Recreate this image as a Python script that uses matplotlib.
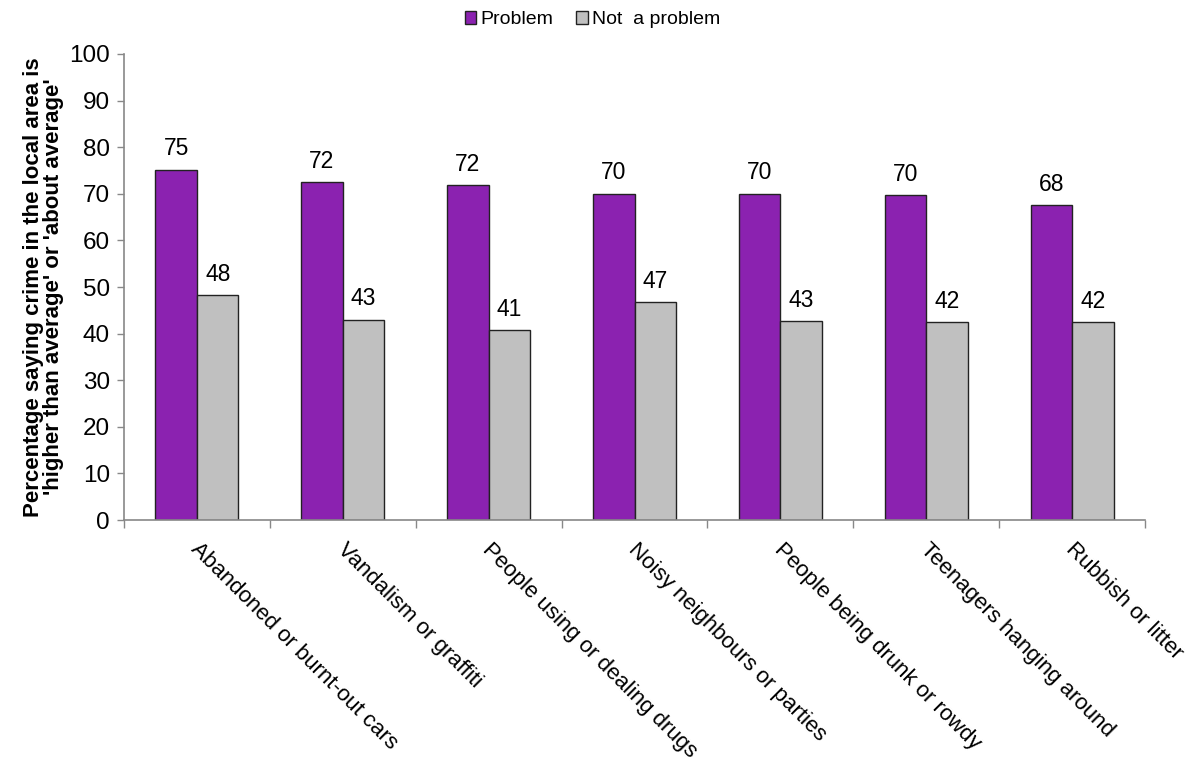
import numpy as np
import matplotlib.pyplot as plt

plt.rcParams['font.family'] = ['Liberation Sans', 'DejaVu Sans']

categories = ['Abandoned or burnt-out cars', 'Vandalism or graffiti',
              'People using or dealing drugs', 'Noisy neighbours or parties',
              'People being drunk or rowdy', 'Teenagers hanging around',
              'Rubbish or litter']
problem     = [75.2, 72.5, 71.8, 70.0, 70.0, 69.7, 67.5]
not_problem = [48.2, 43.0, 40.8, 46.8, 42.7, 42.4, 42.4]
problem_lbl     = [75, 72, 72, 70, 70, 70, 68]
not_problem_lbl = [48, 43, 41, 47, 43, 42, 42]

PURPLE = '#8B22B0'
GREY   = '#C0C0C0'

fig = plt.figure(figsize=(11.99, 7.67), dpi=100)
ax = fig.add_axes([0.1034, 0.322, 0.8516, 0.6076])

x = np.arange(len(categories))
w = 0.285
b1 = ax.bar(x - w/2, problem, w, color=PURPLE, edgecolor='#222222', lw=1.0, label='Problem')
b2 = ax.bar(x + w/2, not_problem, w, color=GREY, edgecolor='#222222', lw=1.0, label='Not  a problem')

for bars, lbls in [(b1, problem_lbl), (b2, not_problem_lbl)]:
    for bar, v in zip(bars, lbls):
        ax.text(bar.get_x() + bar.get_width()/2, bar.get_height() + 2.0, str(v),
                ha='center', va='bottom', fontsize=16.5)

ax.set_xlim(-0.5, len(categories) - 0.5)
ax.set_ylim(0, 100)
ax.set_yticks(np.arange(0, 101, 10))
ax.tick_params(axis='y', labelsize=17.5, length=5, color='#888888', width=1, pad=5)
ax.set_xticks(np.arange(-0.5, len(categories), 1.0))
ax.set_xticklabels([])
ax.tick_params(axis='x', length=6, color='#888888', width=1)
for s in ['top', 'right']:
    ax.spines[s].set_visible(False)
for s in ['left', 'bottom']:
    ax.spines[s].set_color('#888888')
    ax.spines[s].set_linewidth(1.2)

for i, c in enumerate(categories):
    ax.annotate(c, xy=(i, 0), xycoords=('data', 'axes fraction'),
                xytext=(-2, -19), textcoords='offset points',
                rotation=-45, rotation_mode='anchor', ha='left', va='center',
                fontsize=16)

ax.set_ylabel("Percentage saying crime in the local area is\n'higher than average' or 'about average'",
              fontsize=16, fontweight='bold', labelpad=4, linespacing=0.95)

fig.legend(loc='upper center', bbox_to_anchor=(0.494, 1.008), ncol=2, frameon=False,
           fontsize=14, handlelength=0.6, handleheight=0.6, handletextpad=0.2,
           columnspacing=1.2)

fig.savefig('out.png', dpi=100)
